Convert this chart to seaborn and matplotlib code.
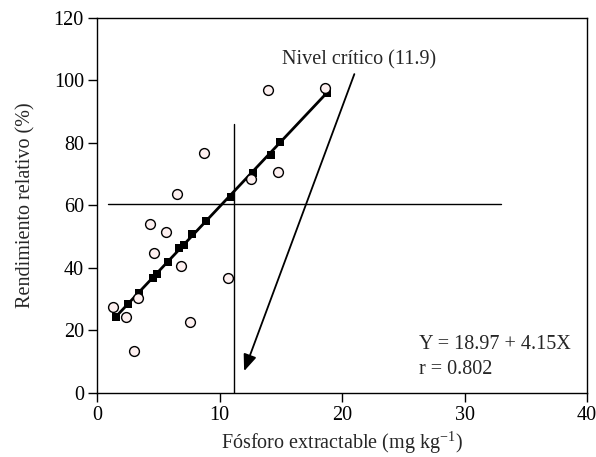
import matplotlib
matplotlib.use("Agg")
import matplotlib.pyplot as plt
import seaborn as sns
import pandas as pd

# valeurs
obs_x = [13.96, 18.59, 8.73, 14.78, 12.60, 6.56, 4.30, 5.61, 4.65, 6.83,
         10.69, 3.35, 1.31, 2.34, 7.57, 3.02]
obs_y = [97.0, 97.5, 76.9, 70.8, 68.4, 63.6, 54.0, 51.4, 44.7, 40.6,
         36.7, 30.3, 27.4, 24.4, 22.8, 13.5]

pred_x = [1.53, 2.48, 3.43, 4.52, 4.85, 5.75, 6.69, 7.10, 7.76, 8.85,
          10.89, 12.73, 14.18, 14.92, 18.73]
pred_y = [24.4, 28.5, 32.1, 36.9, 38.1, 41.8, 46.3, 47.4, 50.8, 55.0,
          62.8, 70.5, 76.2, 80.2, 95.9]

nivel_x = 11.2      # ligne verticale
nivel_top = 86
rend_y = 60.5       # ligne horizontale
rend_x = [0.9, 33]
arrow_start = (21.0, 102.0)
arrow_tip = (12.0, 7.0)

x_ticks = [0, 10, 20, 30, 40]
y_ticks = [0, 20, 40, 60, 80, 100, 120]

df_obs = pd.DataFrame({"x": obs_x, "y": obs_y})
df_pred = pd.DataFrame({"x": pred_x, "y": pred_y})

sns.set_style("ticks")
plt.rcParams["font.family"] = ["Liberation Serif", "DejaVu Serif"]
plt.rcParams["mathtext.fontset"] = "custom"
plt.rcParams["mathtext.rm"] = "Liberation Serif"
plt.rcParams["mathtext.it"] = "Liberation Serif:italic"

FS = 14.5

fig = plt.figure(figsize=(5.96, 4.57), dpi=100)
ax = fig.add_axes([0.163, 0.140, 0.822, 0.821])

# droite de régression
sns.lineplot(data=df_pred.iloc[[0, -1]], x="x", y="y", color="black",
             linewidth=2, ax=ax, zorder=2)
sns.scatterplot(data=df_pred, x="x", y="y", marker="s", color="black",
                s=32, edgecolor="black", linewidth=0, ax=ax, zorder=3)
sns.scatterplot(data=df_obs, x="x", y="y", marker="o", color="#fdf0f0",
                s=50, edgecolor="black", linewidth=1, ax=ax, zorder=4)

ax.plot([nivel_x, nivel_x], [0, nivel_top], color="black", linewidth=1, zorder=1)
ax.plot(rend_x, [rend_y, rend_y], color="black", linewidth=1, zorder=1)

ax.annotate("", xy=arrow_tip, xytext=arrow_start,
            arrowprops=dict(arrowstyle="-|>,head_length=1.0,head_width=0.4",
                            color="black", linewidth=1.3, shrinkA=0, shrinkB=0))
ax.text(15.1, 105, "Nivel crítico (11.9)", fontsize=FS)
ax.text(26.3, 14.0, "Y = 18.97 + 4.15X", fontsize=FS)
ax.text(26.3, 6.1, "r = 0.802", fontsize=FS)

ax.set_xlim(0, 40)
ax.set_ylim(0, 120)
ax.set_xticks(x_ticks)
ax.set_yticks(y_ticks)
ax.tick_params(direction="out", length=6.5, width=1, pad=3,
               labelsize=FS, colors="black")
for sp in ax.spines.values():
    sp.set_linewidth(1)
    sp.set_color("black")

ax.set_xlabel("Fósforo extractable (mg kg$^{-1}$)", fontsize=FS, labelpad=3)
ax.set_ylabel("Rendimiento relativo (%)", fontsize=FS, labelpad=13)

plt.savefig("out.png", dpi=100)
